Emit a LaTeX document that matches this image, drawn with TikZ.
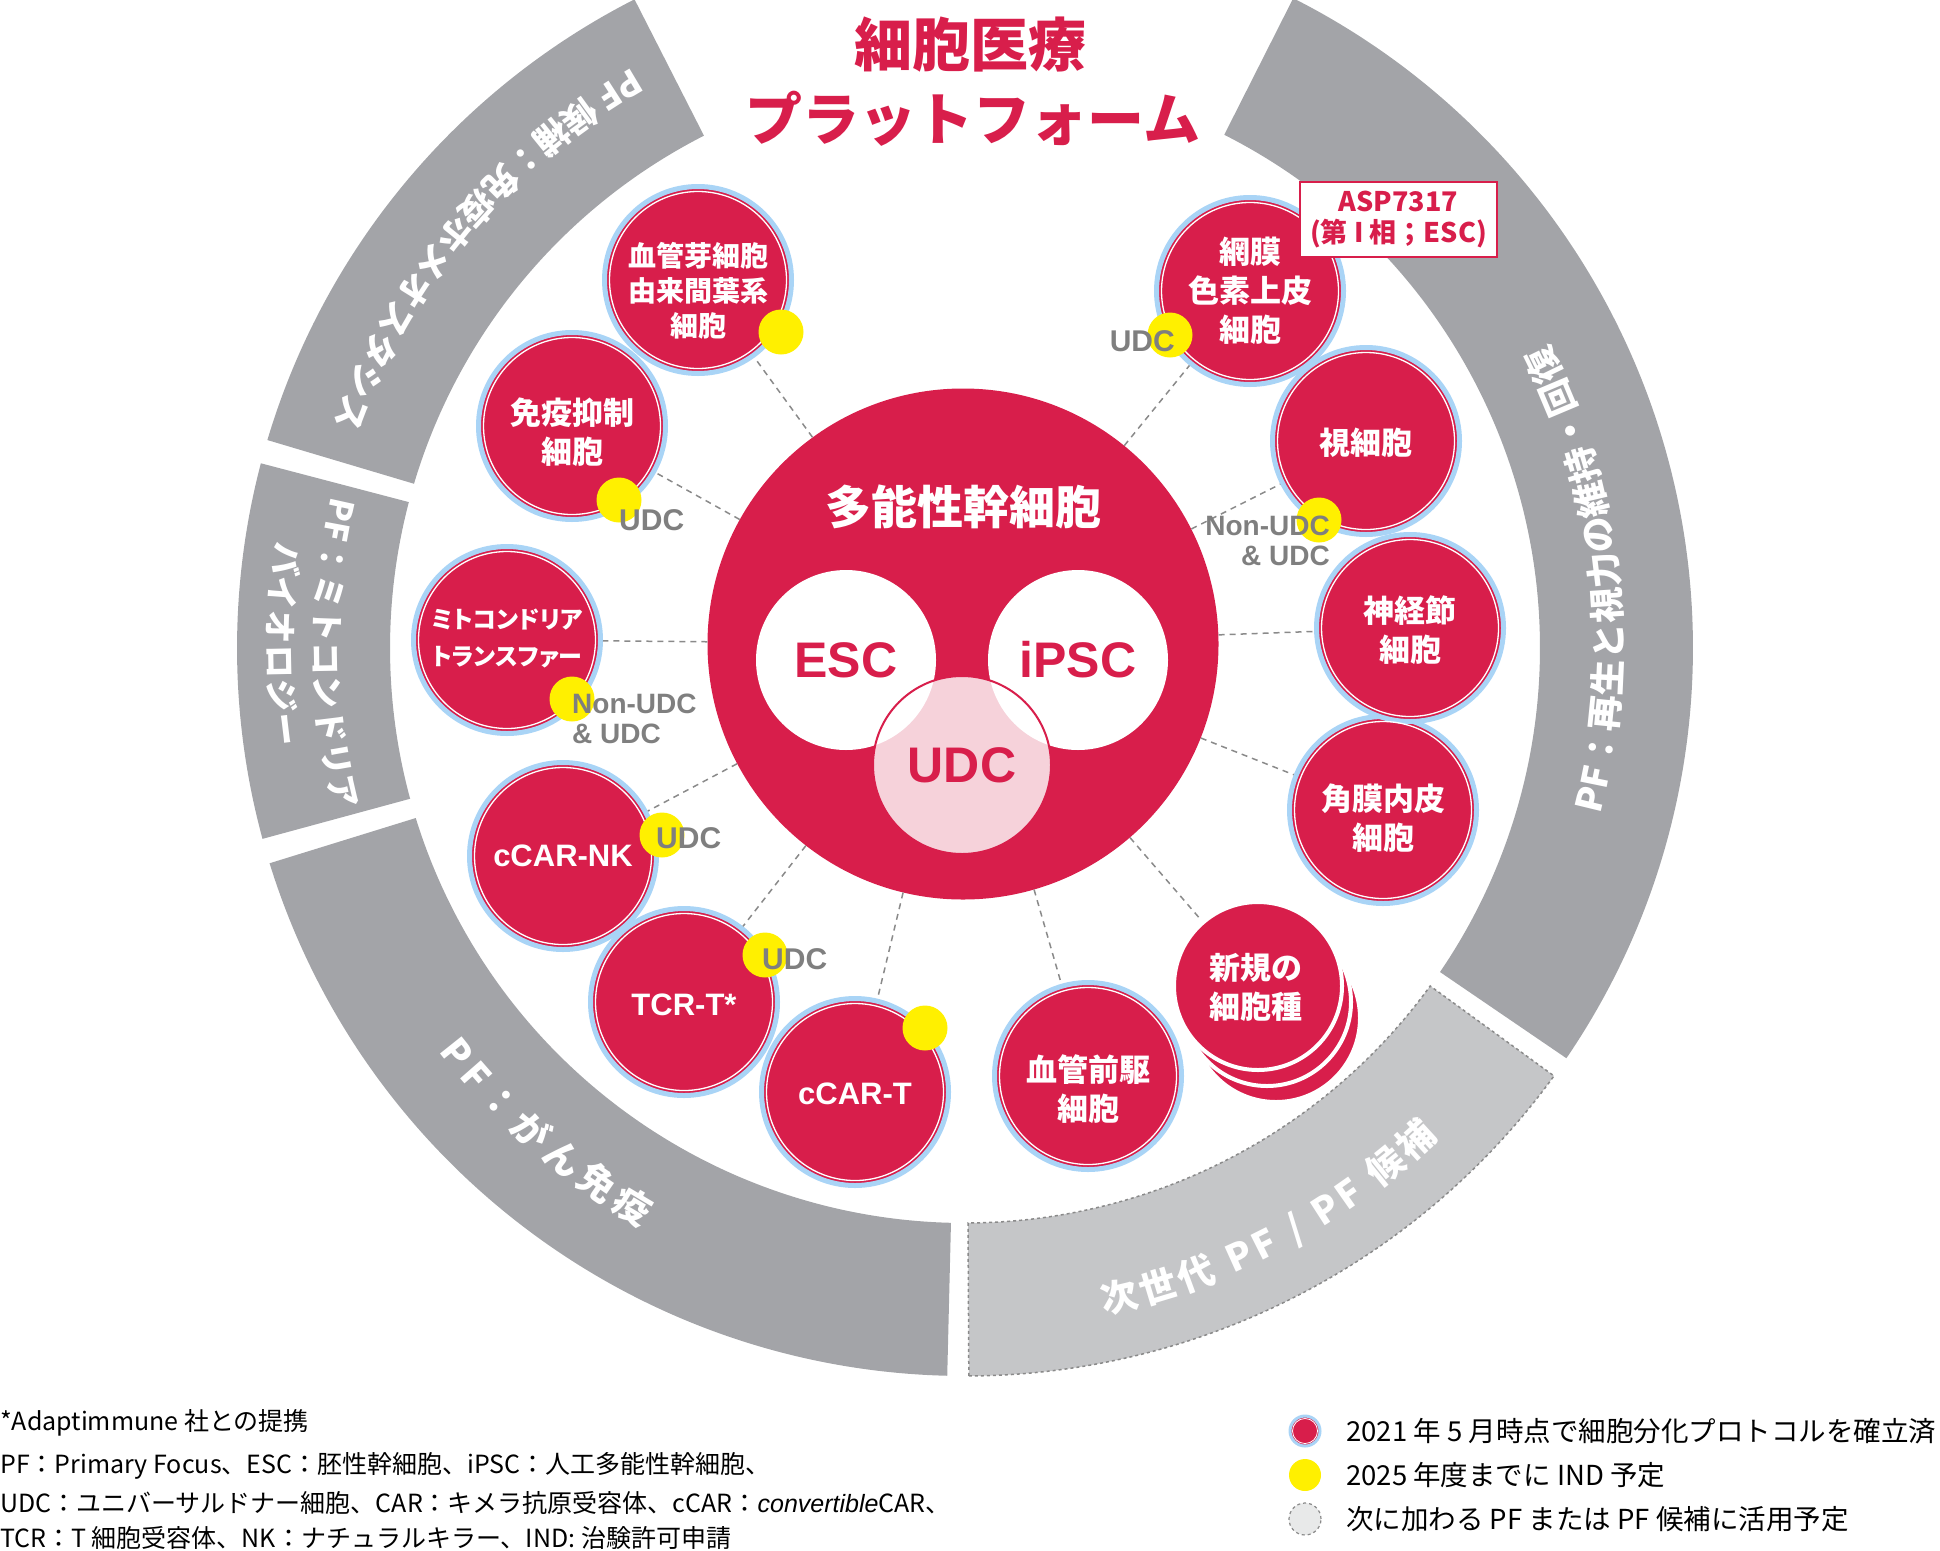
\documentclass[tikz,border=0pt]{standalone}
\usepackage{fontspec}
\newfontfamily\jp{Noto Sans CJK JP}
\newfontfamily\jpp{Noto Sans CJK JP}[RawFeature=+palt]
\newfontfamily\lat{Liberation Sans}
\usetikzlibrary{calc,decorations.text}
\definecolor{cred}{HTML}{D81E4B}
\definecolor{cblue}{HTML}{A9D4F6}
\definecolor{rgray}{HTML}{A3A4A8}
\definecolor{lgray}{HTML}{C5C6C8}
\definecolor{dgray}{HTML}{8A8A8A}
\definecolor{cyel}{HTML}{FFF000}
\definecolor{cpink}{HTML}{F6D2DA}
\definecolor{lblgray}{HTML}{7F7F7F}
\definecolor{legray}{HTML}{E8E9E9}
\newcommand\ringseg[3]{\path[#3] ($(C)+(#1:728)$) arc[start angle=#1,end angle=#2,radius=728] -- ($(C)+(#2:575)$) arc[start angle=#2,end angle=#1,radius=575] -- cycle;}
\newcommand\ringtext[5]{\path[decorate,decoration={text along path,text color=white,text align={fit to path},text={|\jp\bfseries\fontsize{#4}{#4}\selectfont|#5}}] ($(C)+(#1:#3)$) arc[start angle=#1,end angle=#2,radius=#3];}
\tikzset{
 cell/.style={circle, fill=cred, draw=cblue, line width=5, minimum size=187, inner sep=0},
 celltxt/.style={align=center, text=white, inner sep=0, font=\jp\bfseries\fontsize{31}{39}\selectfont},
 lattxt/.style={text=white, inner sep=0, font=\lat\bfseries\fontsize{31}{36}\selectfont},
 ydot/.style={circle, fill=cyel, minimum size=45, inner sep=0},
 glabel/.style={text=lblgray, font=\lat\bfseries\fontsize{30}{30}\selectfont, inner sep=0},
 glabel2/.style={text=lblgray, font=\lat\bfseries\fontsize{28}{30}\selectfont, inner sep=0},
 conn/.style={dgray, dash pattern=on 6 off 5, line width=1.5},
 fn/.style={anchor=west, inner sep=0, font=\jp\fontsize{25}{28}\selectfont},
 lg/.style={anchor=west, inner sep=0, font=\jp\fontsize{27.5}{30}\selectfont},
 vtxt/.style={text=cred, font=\lat\bfseries\fontsize{50}{50}\selectfont},
}
\begin{document}
\begin{tikzpicture}[x=1pt,y=1pt]
\useasboundingbox (0,-1550) rectangle (1940,0);
\coordinate (C) at (965,-648);
% ring segments
\ringseg{117}{163.4}{fill=rgray}
\ringseg{165.3}{195.2}{fill=rgray}
\ringseg{197.2}{268.6}{fill=rgray}
\ringseg{270.3}{324}{fill=lgray,draw=dgray,dashed,line width=1.5}
\ringseg{-34.3}{63.2}{fill=rgray}
% ring texts
\ringtext{119.8}{160.5}{669}{34.5}{PF 候補：免疫ホメオスタシス}
\ringtext{166.5}{194.5}{651}{33}{PF：ミトコンドリア}
\ringtext{171.2}{188.2}{697}{33}{バイオロジー}
\ringtext{217.5}{240.8}{663}{37}{PF：がん免疫}
\ringtext{281.8}{314}{681}{37}{次世代 PF / PF 候補}
\ringtext{-14.7}{27.6}{657}{36}{PF：再生と視力の維持・回復}
% title
\node[text=cred, font=\jp\bfseries\fontsize{58}{58}\selectfont] (t1) at (970,-45) {細胞医療};
\node[text=cred, font=\jp\bfseries\fontsize{57}{57}\selectfont] (t2) at (973,-119) {プラットフォーム};
% central circle
\node[circle, fill=cred, minimum size=511, inner sep=0] (pcs) at (963,-644) {};
\node[text=white, font=\jp\bfseries\fontsize{46}{46}\selectfont] (pcst) at (963,-507) {多能性幹細胞};
\node[circle, fill=cpink, minimum size=178, inner sep=0, vtxt] (udc) at (962,-765) {UDC};
\node[circle, fill=white, minimum size=180, inner sep=0, vtxt] (esc) at (846,-660) {ESC};
\node[circle, fill=white, minimum size=180, inner sep=0, vtxt] (ipsc) at (1078,-660) {iPSC};
\draw[cred, line width=2] (udc.center) circle (89);
% cells
\node[cell] (n1) at (698,-280) {};
\node[cell] (n2) at (572,-426) {};
\node[cell] (n3) at (507,-640) {};
\node[cell] (n4) at (563,-856) {};
\node[cell] (n5) at (684,-1002) {};
\node[cell] (n6) at (855,-1092) {};
\node[cell] (n7) at (1088,-1076) {};
\node[cell] (n9) at (1383,-810) {};
\node[cell] (n10) at (1410,-628) {};
\node[cell] (n11) at (1366,-441) {};
\node[cell] (n12) at (1250,-291) {};
\foreach \n in {n1,n2,n3,n4,n5,n6,n7,n9,n10,n11,n12}
  \draw[white, line width=1.3] (\n.center) circle (88.5);
% new cell types stack
\path[fill=cred, draw=white, line width=4] (1276,-1018) circle (84);
\path[fill=cred, draw=white, line width=4] (1267,-1002) circle (84);
\node[circle, fill=cred, draw=white, line width=4, minimum size=168, inner sep=0] (n8) at (1258,-986) {};
% cell texts
\node[celltxt, font=\jp\bfseries\fontsize{28}{35}\selectfont] (n1t) at (698,-291) {血管芽細胞\\由来間葉系\\細胞};
\node[celltxt] (n2t) at (572,-432) {免疫抑制\\細胞};
\node[celltxt, font=\jpp\bfseries\fontsize{24}{37}\selectfont] (n3t) at (507,-638) {ミトコンドリア\\トランスファー};
\node[lattxt] (n4t) at (563,-856) {cCAR-NK};
\node[lattxt] (n5t) at (684,-1005) {TCR-T*};
\node[lattxt] (n6t) at (855,-1094) {cCAR-T};
\node[celltxt] (n7t) at (1088,-1089) {血管前駆\\細胞};
\node[celltxt] (n8t) at (1256,-987) {新規の\\細胞種};
\node[celltxt] (n9t) at (1383,-818) {角膜内皮\\細胞};
\node[celltxt] (n10t) at (1410,-630) {神経節\\細胞};
\node[celltxt] (n11t) at (1366,-443) {視細胞};
\node[celltxt] (n12t) at (1250,-291) {網膜\\色素上皮\\細胞};
% connectors
\foreach \n in {n1,n2,n3,n4,n5,n6,n7,n8,n9,n10,n11,n12}
  \draw[conn] (pcs) -- (\n);
% yellow dots
\node[ydot] (y1) at (781,-332) {};
\node[ydot] (y2) at (619,-500) {};
\node[ydot] (y3) at (572,-699) {};
\node[ydot] (y4) at (662,-835) {};
\node[ydot] (y5) at (765,-955) {};
\node[ydot] (y6) at (925,-1028) {};
\node[ydot] (y11) at (1319,-520) {};
\node[ydot] (y12) at (1170,-335) {};
% grey labels
\node[glabel, anchor=west] (u2) at (619,-520) {UDC};
\node[glabel, anchor=west] (u4) at (656,-838) {UDC};
\node[glabel, anchor=west] (u5) at (762,-959) {UDC};
\node[glabel, anchor=east] (u12) at (1175,-341) {UDC};
\node[glabel2, anchor=west, align=left] (u3) at (572,-719) {Non-UDC\\\& UDC};
\node[glabel2, anchor=east, align=right] (u11) at (1330,-541) {Non-UDC\\\& UDC};
% ASP box
\node[draw=cred, line width=1.5, fill=white, align=center, text=cred, minimum width=197, minimum height=75, inner sep=0, font=\jp\bfseries\fontsize{27}{31}\selectfont] (asp) at (1398.5,-219.5) {ASP7317\\(第 I 相；ESC)};
% footnotes
\node[fn] (f1) at (0,-1423) {*Adaptimmune 社との提携};
\node[fn] (f2) at (0,-1466) {PF：Primary Focus、ESC：胚性幹細胞、iPSC：人工多能性幹細胞、};
\node[fn] (f3) at (0,-1503) {UDC：ユニバーサルドナー細胞、CAR：キメラ抗原受容体、cCAR：{\lat\itshape convertible}CAR、};
\node[fn] (f4) at (0,-1538) {TCR：T 細胞受容体、NK：ナチュラルキラー、IND: 治験許可申請};
% legend
\node[circle, fill=cred, draw=cblue, line width=3, minimum size=30, inner sep=0] (lg1) at (1305,-1431) {};
\draw[white, line width=0.8] (lg1.center) circle (12.5);
\node[ydot, minimum size=32] (lg2) at (1305,-1475) {};
\node[circle, fill=legray, draw=dgray, dashed, line width=1.2, minimum size=32, inner sep=0] (lg3) at (1305,-1519) {};
\node[lg] (lt1) at (1346,-1431) {2021 年 5 月時点で細胞分化プロトコルを確立済};
\node[lg] (lt2) at (1346,-1475) {2025 年度までに IND 予定};
\node[lg] (lt3) at (1346,-1519) {次に加わる PF または PF 候補に活用予定};
\end{tikzpicture}
\end{document}
